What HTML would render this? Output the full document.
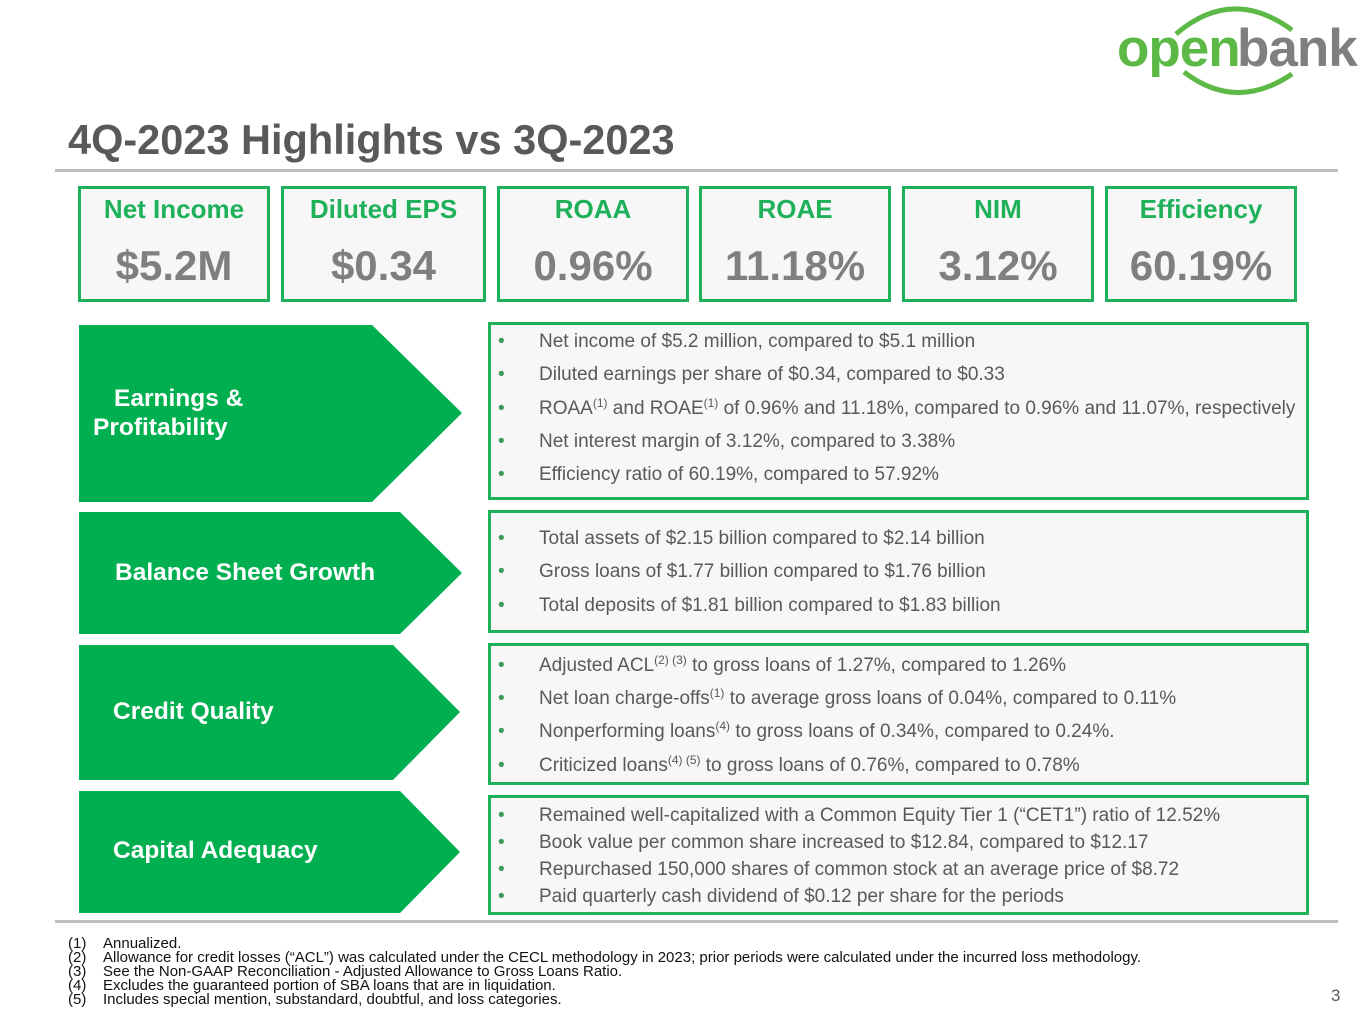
<!DOCTYPE html>
<html><head><meta charset="utf-8"><style>
body{margin:0;width:1365px;height:1024px;background:#fff;position:relative;overflow:hidden;font-family:"Liberation Sans",Arial,sans-serif;}
.a{position:absolute;}
.kpi{position:absolute;top:186px;height:116px;box-sizing:border-box;border:3px solid #1fb15a;background:#f7f7f7;text-align:center;}
.kpi .l{position:absolute;left:0;right:0;top:5px;font-weight:bold;font-size:26px;color:#1fb15a;}
.kpi .v{position:absolute;left:0;right:0;top:53px;font-weight:bold;font-size:42px;color:#7f7f7f;}
.box{position:absolute;left:488px;width:821px;box-sizing:border-box;border:3px solid #1fb15a;background:#f7f7f7;}
.b{position:absolute;left:7px;font-size:19px;color:#595959;white-space:nowrap;}
.b .d{position:absolute;left:0;color:#3a9a5a;}
.b .t{position:absolute;left:41px;}
sup{font-size:12px;vertical-align:7px;line-height:0;}
.arrow{position:absolute;left:79px;}
.arrow svg{position:absolute;left:0;top:0;}
.arrow .lab{position:absolute;font-weight:bold;font-size:24.5px;color:#fff;}
.fn{position:absolute;left:68px;font-size:15px;color:#111;white-space:nowrap;line-height:14px;}
.fn span{position:absolute;left:35px;}
</style></head><body>
<svg class="a" style="left:1110px;top:0" width="255" height="100">
<path d="M66 34 Q122 -14 182 30" fill="none" stroke="#5cb946" stroke-width="5"/>
<path d="M74 72 Q126 112 182 74" fill="none" stroke="#5cb946" stroke-width="5"/>
<text x="7" y="66" font-family="Liberation Sans" font-weight="bold" font-size="53" fill="#5cb946" letter-spacing="-1">open</text>
<text x="127" y="66" font-family="Liberation Sans" font-weight="bold" font-size="53" fill="#7f7f7f" letter-spacing="-1">bank</text>
</svg>
<div class="a" style="left:68px;top:116px;font-size:41.5px;font-weight:bold;color:#595959;">4Q-2023 Highlights vs 3Q-2023</div>
<div class="a" style="left:55px;top:169px;width:1283px;height:3px;background:#bfbfbf"></div>

<div class="kpi" style="left:78px;width:192px"><div class="l">Net Income</div><div class="v">$5.2M</div></div>
<div class="kpi" style="left:281px;width:205px"><div class="l">Diluted EPS</div><div class="v">$0.34</div></div>
<div class="kpi" style="left:497px;width:192px"><div class="l">ROAA</div><div class="v">0.96%</div></div>
<div class="kpi" style="left:699px;width:192px"><div class="l">ROAE</div><div class="v">11.18%</div></div>
<div class="kpi" style="left:902px;width:192px"><div class="l">NIM</div><div class="v">3.12%</div></div>
<div class="kpi" style="left:1105px;width:192px"><div class="l">Efficiency</div><div class="v">60.19%</div></div>

<div class="arrow" style="top:325px;width:383px;height:177px">
<svg width="383" height="177"><polygon points="0,0 293,0 383,88 293,177 0,177" fill="#00b050"/></svg>
<div class="lab" style="left:35px;top:60px">Earnings &amp;</div><div class="lab" style="left:14px;top:89px">Profitability</div></div>
<div class="arrow" style="top:512px;width:383px;height:122px">
<svg width="383" height="122"><polygon points="0,0 321,0 383,61 321,122 0,122" fill="#00b050"/></svg>
<div class="lab" style="left:36px;top:47px">Balance Sheet Growth</div></div>
<div class="arrow" style="top:645px;width:381px;height:135px">
<svg width="381" height="135"><polygon points="0,0 314,0 381,67 314,135 0,135" fill="#00b050"/></svg>
<div class="lab" style="left:34px;top:53px">Credit Quality</div></div>
<div class="arrow" style="top:791px;width:381px;height:122px">
<svg width="381" height="122"><polygon points="0,0 321,0 381,61 321,122 0,122" fill="#00b050"/></svg>
<div class="lab" style="left:34px;top:46px">Capital Adequacy</div></div>

<div class="box" style="top:322px;height:178px">
<div class="b" style="top:6px"><span class="d">•</span><span class="t">Net income of $5.2 million, compared to $5.1 million</span></div>
<div class="b" style="top:39px"><span class="d">•</span><span class="t">Diluted earnings per share of $0.34, compared to $0.33</span></div>
<div class="b" style="top:73px"><span class="d">•</span><span class="t">ROAA<sup>(1)</sup> and ROAE<sup>(1)</sup> of 0.96% and 11.18%, compared to 0.96% and 11.07%, respectively</span></div>
<div class="b" style="top:106px"><span class="d">•</span><span class="t">Net interest margin of 3.12%, compared to 3.38%</span></div>
<div class="b" style="top:139px"><span class="d">•</span><span class="t">Efficiency ratio of 60.19%, compared to 57.92%</span></div>
</div>
<div class="box" style="top:510px;height:123px">
<div class="b" style="top:15px"><span class="d">•</span><span class="t">Total assets of $2.15 billion compared to $2.14 billion</span></div>
<div class="b" style="top:48px"><span class="d">•</span><span class="t">Gross loans of $1.77 billion compared to $1.76 billion</span></div>
<div class="b" style="top:82px"><span class="d">•</span><span class="t">Total deposits of $1.81 billion compared to $1.83 billion</span></div>
</div>
<div class="box" style="top:643px;height:142px">
<div class="b" style="top:9px"><span class="d">•</span><span class="t">Adjusted ACL<sup>(2) (3)</sup> to gross loans of 1.27%, compared to 1.26%</span></div>
<div class="b" style="top:42px"><span class="d">•</span><span class="t">Net loan charge-offs<sup>(1)</sup> to average gross loans of 0.04%, compared to 0.11%</span></div>
<div class="b" style="top:75px"><span class="d">•</span><span class="t">Nonperforming loans<sup>(4)</sup> to gross loans of 0.34%, compared to 0.24%.</span></div>
<div class="b" style="top:109px"><span class="d">•</span><span class="t">Criticized loans<sup>(4) (5)</sup> to gross loans of 0.76%, compared to 0.78%</span></div>
</div>
<div class="box" style="top:795px;height:120px">
<div class="b" style="top:7px"><span class="d">•</span><span class="t">Remained well-capitalized with a Common Equity Tier 1 (“CET1”) ratio of 12.52%</span></div>
<div class="b" style="top:34px"><span class="d">•</span><span class="t">Book value per common share increased to $12.84, compared to $12.17</span></div>
<div class="b" style="top:61px"><span class="d">•</span><span class="t">Repurchased 150,000 shares of common stock at an average price of $8.72</span></div>
<div class="b" style="top:88px"><span class="d">•</span><span class="t">Paid quarterly cash dividend of $0.12 per share for the periods</span></div>
</div>

<div class="a" style="left:55px;top:920px;width:1283px;height:3px;background:#bfbfbf"></div>
<div class="fn" style="top:937px">(1)<span>Annualized.</span></div>
<div class="fn" style="top:951px">(2)<span>Allowance for credit losses (“ACL”) was calculated under the CECL methodology in 2023; prior periods were calculated under the incurred loss methodology.</span></div>
<div class="fn" style="top:965px">(3)<span>See the Non-GAAP Reconciliation - Adjusted Allowance to Gross Loans Ratio.</span></div>
<div class="fn" style="top:979px">(4)<span>Excludes the guaranteed portion of SBA loans that are in liquidation.</span></div>
<div class="fn" style="top:993px">(5)<span>Includes special mention, substandard, doubtful, and loss categories.</span></div>
<div class="a" style="left:1331px;top:986px;font-size:17px;color:#595959">3</div>
</body></html>
